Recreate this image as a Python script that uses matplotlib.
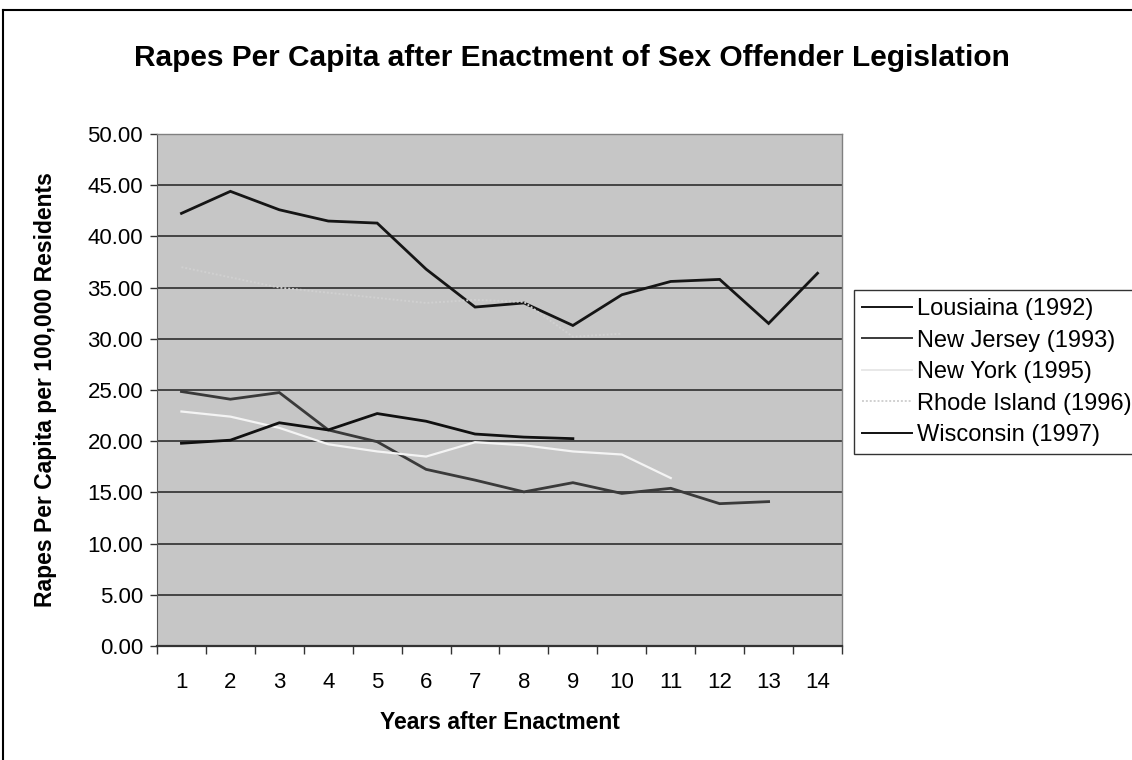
import matplotlib
matplotlib.use("Agg")
import matplotlib.pyplot as plt
from matplotlib.lines import Line2D
import numpy as np

plt.rcParams['font.family'] = ['Liberation Sans', 'DejaVu Sans']

years_after = list(range(1, 15))
louisiana = [42.25, 44.4, 42.6, 41.5, 41.3, 36.8, 33.1, 33.5, 31.3, 34.3, 35.6, 35.8, 31.5, 36.4]
new_jersey = [24.85, 24.1, 24.75, 21.1, 19.95, 17.25, 16.2, 15.05, 15.95, 14.9, 15.4, 13.9, 14.1]
new_york = [22.9, 22.4, 21.3, 19.7, 19.0, 18.5, 19.9, 19.6, 19.0, 18.7, 16.4]
rhode_island = [37.0, 36.0, 35.0, 34.5, 34.0, 33.5, 33.8, 33.6, 30.2, 30.5]
wisconsin = [19.8, 20.1, 21.8, 21.1, 22.7, 21.95, 20.7, 20.4, 20.25]

series_labels = ["Lousiaina (1992)", "New Jersey (1993)", "New York (1995)",
                 "Rhode Island (1996)", "Wisconsin (1997)"]
y_ticks = [0, 5, 10, 15, 20, 25, 30, 35, 40, 45, 50]

fig = plt.figure(figsize=(11.32, 7.6), dpi=100)
fig.patch.set_facecolor('white')
ax = fig.add_axes([157/1132, 1-646/760, (842-157)/1132, (646-134)/760])
ax.set_facecolor('#c6c6c6')

styles = [
    dict(color='#151515', lw=2.0, ls='-'),
    dict(color='#3a3a3a', lw=2.0, ls='-'),
    dict(color='#f4f4f4', lw=1.6, ls='-'),
    dict(color='#d0d0d0', lw=1.4, ls=(0, (1, 1))),
    dict(color='#101010', lw=2.0, ls='-'),
]
data = [louisiana, new_jersey, new_york, rhode_island, wisconsin]

for yv in y_ticks[1:]:
    ax.axhline(yv, color='#3a3a3a', lw=1.3, zorder=1)

for vals, st, lab in zip(data, styles, series_labels):
    ax.plot(years_after[:len(vals)], vals, color=st['color'], lw=st['lw'],
            ls=st['ls'], label=lab, zorder=3, solid_joinstyle='miter')

fs = 16
ax.set_xlim(0.5, 14.5)
ax.set_ylim(0, 50)
ax.set_yticks(y_ticks)
ax.set_yticklabels([f"{v:.2f}" for v in y_ticks], fontsize=fs)
ax.set_xticks(np.arange(0.5, 15, 1))
ax.set_xticklabels([])
ax.set_xticks(years_after, minor=True)
ax.set_xticklabels([str(v) for v in years_after], minor=True, fontsize=fs)
ax.tick_params(axis='x', which='major', length=6, width=1, color='#333333', direction='out')
ax.tick_params(axis='x', which='minor', length=0, pad=19)
ax.tick_params(axis='y', length=5, width=1, color='#333333', pad=5)

for side in ['top', 'right']:
    ax.spines[side].set_color('#808080')
    ax.spines[side].set_linewidth(1.0)
ax.spines['left'].set_color('#555555')
ax.spines['bottom'].set_color('#333333')
ax.spines['bottom'].set_linewidth(1.6)

ax.set_xlabel("Years after Enactment", fontsize=16.5, fontweight='bold', labelpad=13)
ax.set_ylabel("Rapes Per Capita per 100,000 Residents", fontsize=16.5, fontweight='bold', labelpad=22)

fig.text(0.505, 1-58/760, "Rapes Per Capita after Enactment of Sex Offender Legislation",
         ha='center', va='center', fontsize=21.5, fontweight='bold')

handles = [Line2D([], [], color=st['color'] if i != 2 else '#e8e8e8', lw=1.4,
                  ls=st['ls']) for i, st in enumerate(styles)]
leg = fig.legend(handles, series_labels, loc='upper left',
                 bbox_to_anchor=(854/1132, 1-290/760), borderaxespad=0,
                 fontsize=17, frameon=True, fancybox=False, edgecolor='black',
                 handlelength=2.1, handletextpad=0.2, labelspacing=0.4,
                 borderpad=0.35)
leg.get_frame().set_linewidth(1.0)

# figure border (left and top)
fig.add_artist(Line2D([3/1132, 3/1132], [0, 1-10/760], color='black', lw=1.5,
                      transform=fig.transFigure))
fig.add_artist(Line2D([3/1132, 1], [1-10/760, 1-10/760], color='black', lw=1.5,
                      transform=fig.transFigure))

fig.savefig("out.png", dpi=100)
